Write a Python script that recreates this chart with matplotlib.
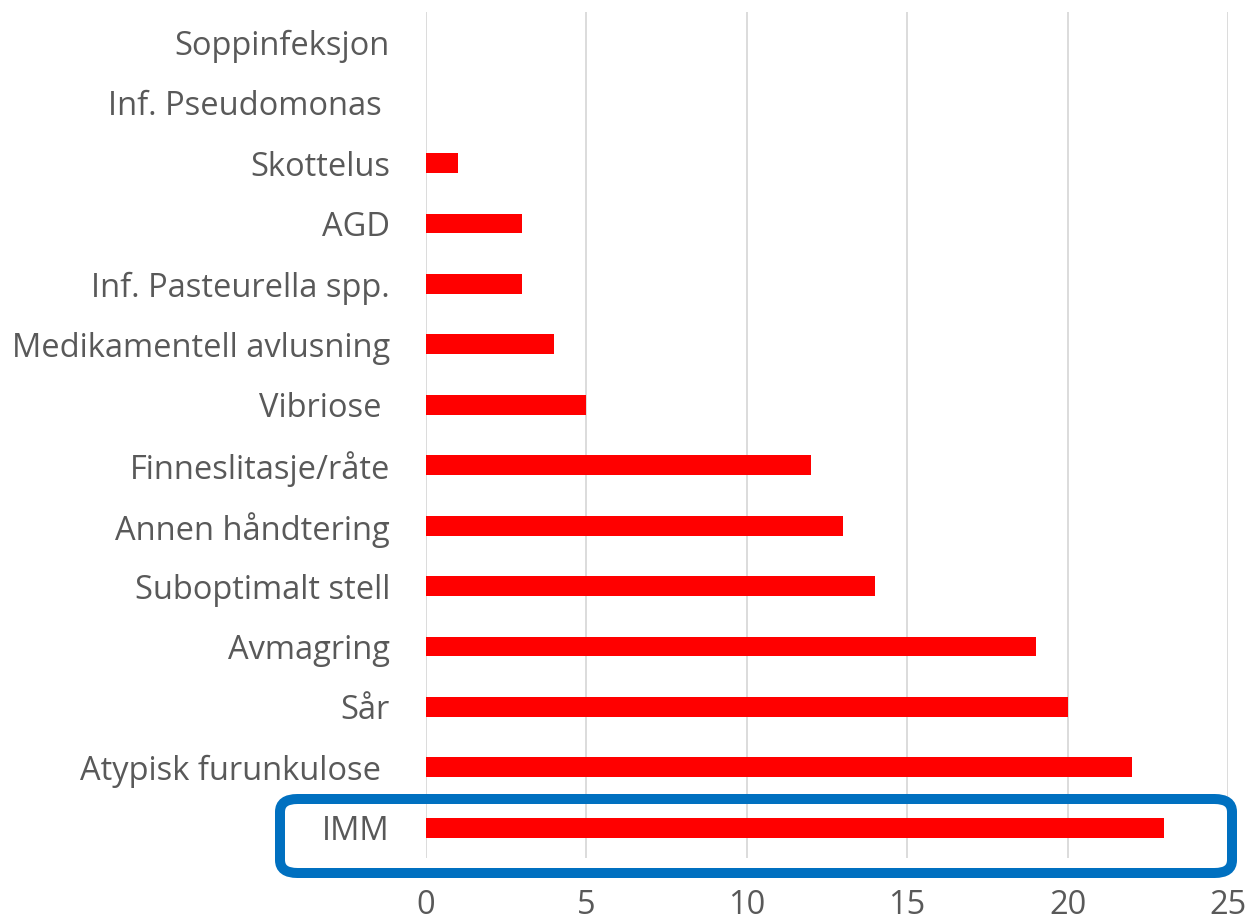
import matplotlib
matplotlib.use("Agg")
import matplotlib.pyplot as plt
from matplotlib.patches import FancyBboxPatch

categories = ["IMM", "Atypisk furunkulose ", "Sår", "Avmagring", "Suboptimalt stell",
              "Annen håndtering", "Finneslitasje/råte", "Vibriose ", "Medikamentell avlusning",
              "Inf. Pasteurella spp.", "AGD", "Skottelus", "Inf. Pseudomonas ", "Soppinfeksjon"]
values = [23, 22, 20, 19, 14, 13, 12, 5, 4, 3, 3, 1, 0, 0]
xticks = [0, 5, 10, 15, 20, 25]

plt.rcParams['font.family'] = ['Open Sans', 'DejaVu Sans']
txt = '#595959'

fig = plt.figure(figsize=(12.49, 9.22), dpi=100)
ax = fig.add_axes([426/1249, 1-858/922, (1228-426)/1249, (858-12)/922])

y = range(len(categories))
ax.barh(y, values, height=0.33, color='#ff0000', zorder=3)
ax.set_ylim(-0.5, len(categories)-0.5)
ax.set_xlim(0, 25)
ax.set_xticks(xticks)
ax.set_yticks(list(y))
ax.set_yticklabels(categories)
ax.tick_params(axis='both', length=0, labelsize=23.5, colors=txt)
ax.tick_params(axis='y', pad=26)
ax.tick_params(axis='x', pad=22)
ax.xaxis.grid(True, color='#d9d9d9', linewidth=1.3, zorder=0)
for s in ax.spines.values():
    s.set_visible(False)

box = FancyBboxPatch((280/1249, 1-873/922), (1232-280)/1249, (873-799)/922,
                     boxstyle="round,pad=0,rounding_size=0.014",
                     transform=fig.transFigure, fill=False,
                     edgecolor='#0070c0', linewidth=7.2, zorder=5)
fig.patches.append(box)

fig.savefig("out.png", dpi=100)
